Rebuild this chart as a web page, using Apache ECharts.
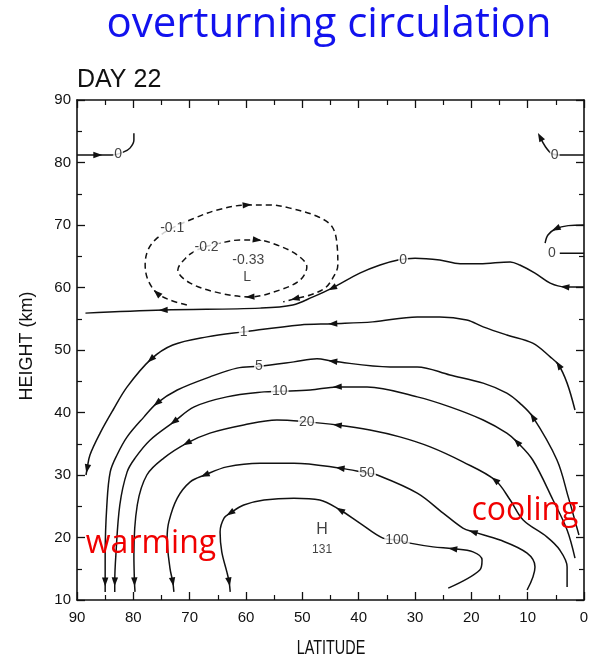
<!DOCTYPE html>
<html><head><meta charset="utf-8">
<script src="https://cdn.jsdelivr.net/npm/echarts@6/dist/echarts.min.js"></script>
<style>html,body{margin:0;padding:0;background:#fff}#c{width:590px;height:663px}</style>
</head><body><div id="c"></div>
<script>
// ---- data: [latitude (deg), height (km)], points listed in flow direction ----
const latTicks = [90, 80, 70, 60, 50, 40, 30, 20, 10, 0];
const heightTicks = [10, 20, 30, 40, 50, 60, 70, 80, 90];

const psi0Main = [[0,60.1],[3.4,60.1],[6.0,60.7],[8.7,62.3],[11.4,63.6],[13.1,64.1],[18.5,63.8],[22.0,63.8],[25.6,64.4],[30.0,64.7],[33.0,64.4],[36.2,63.6],[39.8,62.3],[44.7,59.9],[48.1,58.5],[51.7,57.2],[57.5,56.7],[74.7,56.4],[88.5,55.9]];
const psi0TopLeft = [[90,81.2],[86.3,81.2],[83.8,81.2],[81.7,81.7],[80.6,82.3],[79.9,83.6],[79.9,84.7]];
const psi0TopRight = [[0,81.2],[4.3,81.2],[5.7,81.4],[6.9,82.6],[7.8,84.1]];
const psi0RightUpper = [[0,70.0],[2.8,69.9],[5.0,69.4],[6.4,68.4],[6.9,67.1]];
const psi0RightLower = [[0,65.5],[4.3,65.5]];
const psi1 = [[1.6,40.4],[3.0,44.7],[4.5,47.6],[6.0,48.9],[9.1,51.1],[13.7,52.4],[17.9,53.7],[20.8,54.8],[25.6,55.3],[29.6,55.3],[37.5,54.5],[44.6,54.2],[50.4,54.0],[60.4,52.9],[66.9,52.1],[73.0,50.8],[76.9,48.5],[81.1,44.1],[83.6,40.4],[85.9,36.7],[87.7,33.2],[88.2,31.0],[88.4,30.0]];
const psi5 = [[0.9,20.4],[2.8,26.5],[4.8,32.4],[9.1,39.3],[11.4,41.5],[13.7,43.1],[17.9,44.7],[23.8,46.0],[29.6,47.3],[34.4,47.3],[44.6,48.2],[47.4,48.6],[51.5,48.1],[57.7,47.4],[61.6,47.1],[66.4,45.7],[72.2,43.6],[75.8,41.5],[78.1,39.3],[81.1,36.1],[82.9,33.2],[84.1,30.5],[84.7,25.2],[85.0,17.2],[85.0,12.9],[85.0,11.3]];
const psi10 = [[1.6,16.7],[3.0,21.2],[5.5,26.0],[9.1,32.4],[11.9,35.3],[13.7,36.7],[17.9,38.8],[23.8,40.9],[29.6,42.5],[38.5,44.1],[43.8,44.1],[48.6,43.6],[54.0,43.4],[56.8,43.3],[63.4,42.5],[69.2,40.9],[72.8,38.5],[77.0,35.6],[79.7,32.7],[81.1,30.5],[82.4,25.2],[83.1,17.2],[83.3,12.9],[83.3,11.3]];
const psi20 = [[3.0,12.1],[3.0,15.3],[4.3,18.0],[6.6,20.1],[10.8,22.8],[13.1,26.0],[15.8,29.2],[21.5,32.1],[27.3,34.5],[32.7,36.1],[38.0,37.2],[43.8,38.0],[49.2,38.5],[54.5,38.8],[60.4,38.0],[66.4,36.7],[70.5,35.1],[74.6,32.7],[77.6,30.0],[79.3,25.2],[79.9,17.2],[79.8,12.9],[79.7,11.3]];
const psi50 = [[10.1,11.6],[8.7,15.3],[10.1,17.5],[14.9,19.6],[19.7,20.9],[21.5,21.5],[25.0,23.9],[29.6,27.1],[36.7,30.0],[38.5,30.3],[43.3,31.1],[51.5,31.9],[57.5,31.9],[63.4,31.3],[67.3,30.0],[69.9,28.9],[72.2,26.3],[73.7,22.5],[74.0,19.9],[73.5,15.1],[73.0,12.9],[72.8,11.3]];
const psi100 = [[24.1,11.9],[18.5,14.8],[18.1,16.4],[19.7,17.7],[23.3,18.2],[26.8,18.5],[30.9,19.1],[33.2,19.6],[35.7,19.9],[39.8,22.3],[43.3,24.4],[46.9,26.0],[51.5,26.3],[56.8,26.0],[60.4,25.2],[62.8,23.9],[63.9,23.1],[64.6,20.9],[64.3,17.7],[63.4,14.5],[63.0,12.9],[62.8,11.3]];
const psiM01 = [[70.5,57.2],[73.5,58.0],[75.8,59.1],[77.4,61.2],[77.9,63.6],[77.4,66.0],[75.8,67.9],[73.1,69.5],[69.4,71.0],[65.1,72.4],[59.8,73.2],[55.7,73.2],[52.2,72.7],[47.4,71.4],[44.7,69.7],[43.8,66.5],[43.7,63.6],[44.6,61.5],[46.0,59.9],[48.6,58.8],[51.3,58.2],[53.4,57.7]];
const psiM02 = [[67.3,66.5],[64.6,67.1],[61.1,67.6],[58.0,67.6],[54.5,66.8],[50.9,65.2],[49.2,63.3],[50.4,61.2],[54.0,59.6],[59.3,58.5],[64.6,59.1],[69.9,60.7],[72.1,62.8],[70.5,64.9],[68.7,66.0],[67.3,66.5]];

// vertex indices carrying flow arrows
const arrowIdx0Main = [1, 13, 17];
const arrowIdx0TopLeft = [1];
const arrowIdx0TopRight = [4];
const arrowIdx0RightUpper = [2];
const arrowIdx1 = [2, 11, 16, 21];
const arrowIdx5 = [3, 10, 17, 24];
const arrowIdx10 = [4, 10, 16, 22];
const arrowIdx20 = [6, 11, 16, 21];
const arrowIdx50 = [4, 10, 14, 20];
const arrowIdx100 = [4, 10, 15, 20];
const arrowIdxM01 = [2, 10, 20];
const arrowIdxM02 = [3, 9];

const contourLabelText = ['0','0','0','0','1','5','10','20','50','100','-0.1','-0.2'];
const contourLabelPos = [[82.7,81.4],[5.2,81.2],[5.7,65.5],[32.1,64.4],[60.4,52.9],[57.7,47.4],[54.0,43.4],[49.2,38.5],[38.5,30.3],[33.2,19.6],[73.1,69.5],[67.0,66.4]];
const lowText = ['-0.33','L'];
const lowPos = [[59.6,64.4],[59.8,61.7]];
const highText = ['H','131'];
const highPos = [[46.5,21.2],[46.5,18.0]];

// ---- build ----
const contours = [
  [psi0Main, arrowIdx0Main, false], [psi0TopLeft, arrowIdx0TopLeft, false],
  [psi0TopRight, arrowIdx0TopRight, false], [psi0RightUpper, arrowIdx0RightUpper, false],
  [psi0RightLower, [], false], [psi1, arrowIdx1, false], [psi5, arrowIdx5, false],
  [psi10, arrowIdx10, false], [psi20, arrowIdx20, false], [psi50, arrowIdx50, false],
  [psi100, arrowIdx100, false], [psiM01, arrowIdxM01, true], [psiM02, arrowIdxM02, true]
];
const INK = '#111';
const series = [];
const arrowData = [];
contours.forEach(([pts, idx, dashed]) => {
  series.push({
    type: 'line', data: pts, showSymbol: false, smooth: 0.35, silent: true, z: 2,
    lineStyle: { color: INK, width: 1.5, type: dashed ? [6, 4] : 'solid' }
  });
  idx.forEach(i => {
    const a = pts[Math.max(i - 1, 0)], b = pts[Math.min(i + 1, pts.length - 1)];
    arrowData.push([pts[i][0], pts[i][1], a[0], a[1], b[0], b[1]]);
  });
});
series.push({
  type: 'custom', coordinateSystem: 'cartesian2d', silent: true, z: 4,
  encode: { x: 0, y: 1 }, data: arrowData,
  renderItem: function (params, api) {
    const p = api.coord([api.value(0), api.value(1)]);
    const a = api.coord([api.value(2), api.value(3)]);
    const b = api.coord([api.value(4), api.value(5)]);
    let dx = b[0] - a[0], dy = b[1] - a[1];
    const L = Math.hypot(dx, dy) || 1; dx /= L; dy /= L;
    const len = 9, w = 3.2;
    const tip = [p[0] + dx * len * 0.5, p[1] + dy * len * 0.5];
    const base = [p[0] - dx * len * 0.5, p[1] - dy * len * 0.5];
    return { type: 'polygon', shape: { points: [tip, [base[0] - dy * w, base[1] + dx * w], [base[0] + dy * w, base[1] - dx * w]] }, style: { fill: INK } };
  }
});
function labelSeries(texts, pos, fontSize, bg) {
  return {
    type: 'scatter', silent: true, z: 6, symbolSize: 1, itemStyle: { color: 'rgba(0,0,0,0)' },
    data: texts.map((t, i) => ({ name: t, value: pos[i] })),
    label: { show: true, position: 'inside', formatter: '{b}', color: INK, fontSize: fontSize,
      fontFamily: 'Liberation Sans', backgroundColor: bg ? '#fff' : 'transparent', padding: [0, 1] }
  };
}
series.push(labelSeries(contourLabelText, contourLabelPos, 14, true));
series.push(labelSeries(lowText, lowPos, 14, false));
series.push(labelSeries([highText[0]], [highPos[0]], 16, false));
series.push(labelSeries([highText[1]], [highPos[1]], 12, false));

const axisCommon = {
  axisLine: { show: true, onZero: false, lineStyle: { color: INK, width: 1.6 } },
  axisTick: { show: true, inside: true, length: 8, lineStyle: { color: INK, width: 1.3 } },
  minorTick: { show: true, splitNumber: 2, length: 5, lineStyle: { color: INK, width: 1.2 } },
  splitLine: { show: false }
};
const tickLabel = { color: '#111', fontSize: 15, fontFamily: 'Liberation Sans' };

const chart = echarts.init(document.getElementById('c'), null, { renderer: 'canvas' });
chart.setOption({
  animation: false,
  backgroundColor: '#fff',
  grid: { left: 77, right: 6, top: 100, bottom: 63, containLabel: false, outerBoundsMode: 'none' },
  xAxis: [
    Object.assign({ type: 'value', inverse: true, min: latTicks[latTicks.length - 1], max: latTicks[0], interval: latTicks[0] - latTicks[1], position: 'bottom',
      axisLabel: Object.assign({ margin: 10, formatter: v => latTicks.includes(v) ? String(v) : '' }, tickLabel) }, axisCommon),
    Object.assign({ type: 'value', inverse: true, min: latTicks[latTicks.length - 1], max: latTicks[0], interval: latTicks[0] - latTicks[1], position: 'top',
      axisLabel: { show: false } }, axisCommon)
  ],
  yAxis: [
    Object.assign({ type: 'value', min: heightTicks[0], max: heightTicks[heightTicks.length - 1], interval: heightTicks[1] - heightTicks[0], position: 'left',
      axisLabel: Object.assign({ margin: 6, formatter: v => heightTicks.includes(v) ? String(v) : '' }, tickLabel) }, axisCommon),
    Object.assign({ type: 'value', min: heightTicks[0], max: heightTicks[heightTicks.length - 1], interval: heightTicks[1] - heightTicks[0], position: 'right',
      axisLabel: { show: false } }, axisCommon)
  ],
  graphic: [
    { type: 'text', x: 329, y: 25, silent: true, style: { text: 'overturning circulation', fill: '#1212ee', font: '42px "Open Sans"', textAlign: 'center', textVerticalAlign: 'middle' } },
    { type: 'text', x: 77, y: 80, silent: true, style: { text: 'DAY 22', fill: '#111', font: '25px "Liberation Sans"', textAlign: 'left', textVerticalAlign: 'middle' } },
    { type: 'text', x: 27, y: 346, rotation: Math.PI / 2, silent: true, style: { text: 'HEIGHT (km)', fill: '#111', font: '18px "Liberation Sans"', textAlign: 'center', textVerticalAlign: 'middle' } },
    { type: 'text', x: 331, y: 648, scaleX: 0.72, silent: true, style: { text: 'LATITUDE', fill: '#111', font: '20px "Liberation Sans"', textAlign: 'center', textVerticalAlign: 'middle' } },
    { type: 'text', x: 151, y: 544, z: 10, silent: true, style: { text: 'warming', fill: '#f00000', font: '32px "Open Sans"', textAlign: 'center', textVerticalAlign: 'middle' } },
    { type: 'text', x: 525, y: 511, z: 10, silent: true, style: { text: 'cooling', fill: '#f00000', font: '32px "Open Sans"', textAlign: 'center', textVerticalAlign: 'middle' } }
  ],
  series: series
});
</script></body></html>
